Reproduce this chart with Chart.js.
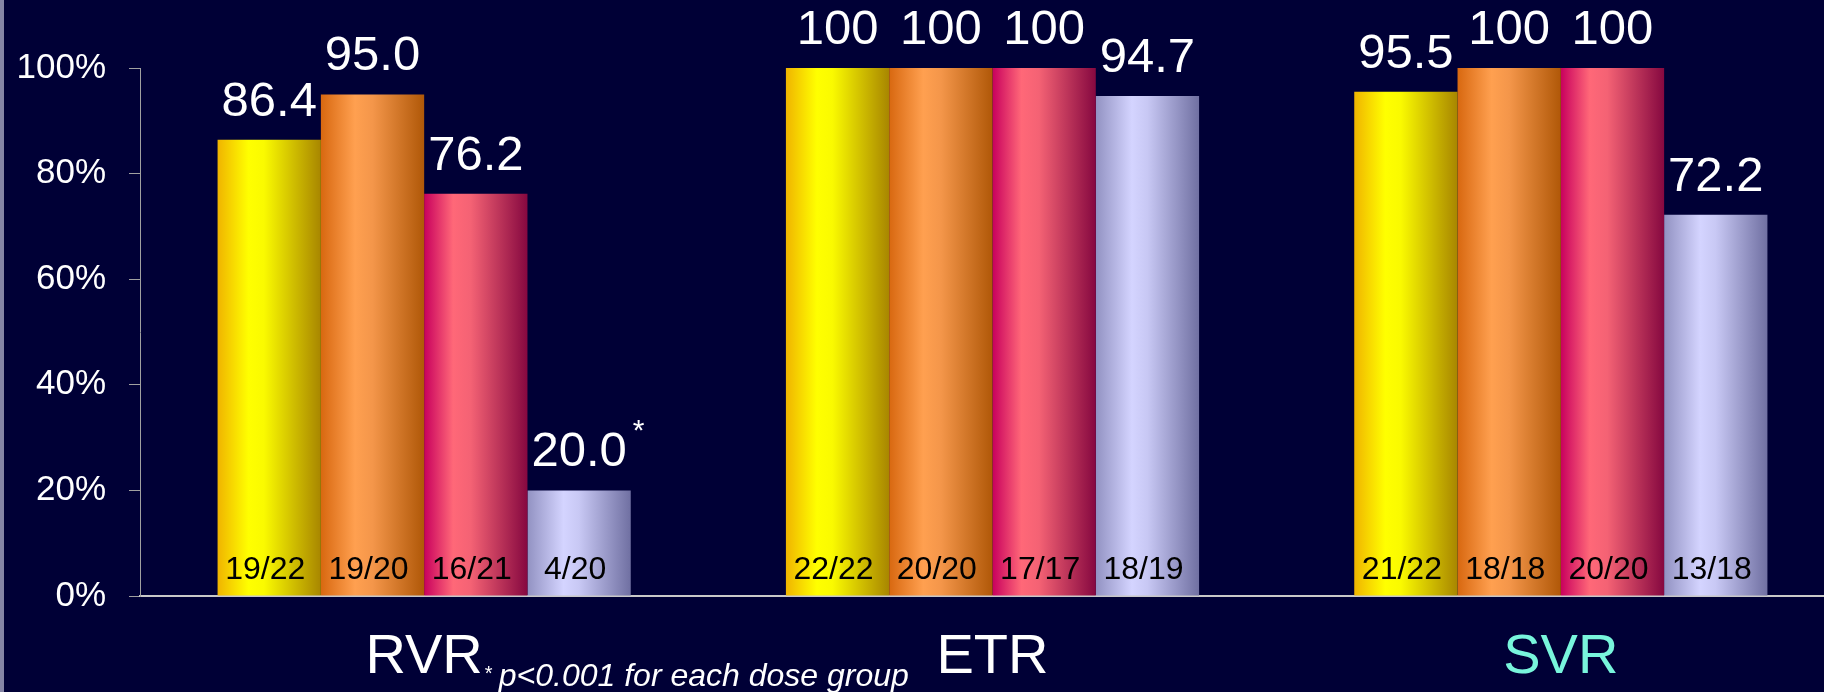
<!DOCTYPE html>
<html>
<head>
<meta charset="utf-8">
<script src="https://cdn.jsdelivr.net/npm/chart.js@4/dist/chart.umd.min.js"></script>
<style>
  html, body { margin: 0; padding: 0; background: #000036; overflow: hidden; }
  #wrap { position: relative; width: 1845px; height: 692px; }
  #edge { position: absolute; left: 0; top: 0; width: 4px; height: 692px; background: #8585a5; }
</style>
</head>
<body>
<div id="wrap">
  <canvas id="responseChart"></canvas>
  <div id="edge"></div>
</div>
<script>
// Response rates (%) per dose group
const categories = ['RVR', 'ETR', 'SVR'];
const group1 = [86.4, 100, 95.5];
const group2 = [95.0, 100, 100];
const group3 = [76.2, 100, 100];
const group4 = [20.0, 94.7, 72.2];

// Patients responding / patients in group
const group1Counts = ['19/22', '22/22', '21/22'];
const group2Counts = ['19/20', '20/20', '18/18'];
const group3Counts = ['16/21', '17/17', '20/20'];
const group4Counts = ['4/20', '18/19', '13/18'];

const yTicks = [0, 20, 40, 60, 80, 100];
const starredBars = [[3, 0]]; // [dataset, category] that carry the "*"
const footnote = 'p<0.001 for each dose group';

const FONT = "'Liberation Sans', Arial, sans-serif";

// horizontal "cylinder" shading for each group
const shades = [
    [[0, '#f0b400'], [0.3, '#ffff00'], [0.45, '#fafa00'], [1, '#a88600']],
    [[0, '#d86810'], [0.33, '#ffa050'], [0.5, '#f4964a'], [1, '#b05808']],
    [[0, '#c8005e'], [0.28, '#ff6878'], [0.45, '#f46274'], [1, '#860840']],
    [[0, '#9292c2'], [0.35, '#d4d4ff'], [0.5, '#c8c8f4'], [1, '#7070a2']]
];

function barFill(groupIndex) {
    return function(context) {
        const el = context.element;
        const stops = shades[groupIndex];
        if (!el || !el.width) return stops[1][1];
        const g = context.chart.ctx.createLinearGradient(el.x - el.width / 2, 0, el.x + el.width / 2, 0);
        stops.forEach(s => g.addColorStop(s[0], s[1]));
        return g;
    };
}

function formatValue(v) {
    return v === 100 ? '100' : v.toFixed(1);
}

// value above each bar, n/N inside at its foot, and the footnote
const barLabels = {
    id: 'barLabels',
    afterDatasetsDraw(chart) {
        const ctx = chart.ctx;
        const bottom = chart.scales.y.getPixelForValue(0);
        ctx.save();
        chart.data.datasets.forEach((ds, di) => {
            chart.getDatasetMeta(di).data.forEach((bar, i) => {
                const text = formatValue(ds.data[i]);
                ctx.font = '49px ' + FONT;
                ctx.fillStyle = '#ffffff';
                ctx.textAlign = 'center';
                ctx.textBaseline = 'alphabetic';
                ctx.fillText(text, bar.x, bar.y - 24);

                if (starredBars.some(s => s[0] === di && s[1] === i)) {
                    const w = ctx.measureText(text).width;
                    ctx.font = '30px ' + FONT;
                    ctx.textAlign = 'left';
                    ctx.fillText('*', bar.x + w / 2 + 6, bar.y - 50);
                }

                ctx.font = '32px ' + FONT;
                ctx.fillStyle = '#000000';
                ctx.textAlign = 'center';
                ctx.fillText(ds.counts[i], bar.x - 4, bottom - 17);
            });
        });

        // "* p<0.001 ..." next to the RVR label
        const xScale = chart.scales.x;
        ctx.font = '56px ' + FONT;
        const rvrRight = xScale.getPixelForValue(0) + ctx.measureText(categories[0]).width / 2;
        ctx.fillStyle = '#ffffff';
        ctx.textAlign = 'left';
        ctx.font = '20px ' + FONT;
        ctx.fillText('*', rvrRight + 2, 680);
        ctx.font = 'italic 32px ' + FONT;
        ctx.fillText(footnote, rvrRight + 16, 686);
        ctx.restore();
    }
};

const chart = new Chart(document.getElementById('responseChart'), {
    type: 'bar',
    data: {
        labels: categories,
        datasets: [
            { data: group1, counts: group1Counts, backgroundColor: barFill(0) },
            { data: group2, counts: group2Counts, backgroundColor: barFill(1) },
            { data: group3, counts: group3Counts, backgroundColor: barFill(2) },
            { data: group4, counts: group4Counts, backgroundColor: barFill(3) }
        ]
    },
    options: {
        responsive: true,
        maintainAspectRatio: false,
        animation: false,
        datasets: {
            bar: { categoryPercentage: 0.727, barPercentage: 1.0, borderWidth: 0 }
        },
        layout: { padding: { top: 68, left: 0, right: 0, bottom: 0 } },
        plugins: {
            legend: { display: false },
            tooltip: { enabled: false }
        },
        scales: {
            x: {
                afterFit: scale => { scale.height = 96; },
                grid: { display: false, drawTicks: false },
                border: { color: '#c8c8c8', width: 2 },
                ticks: {
                    padding: 28,
                    font: { family: FONT, size: 56 },
                    color: ctx => ctx.index === 2 ? '#78f5dc' : '#ffffff'
                }
            },
            y: {
                min: 0,
                max: 100,
                afterFit: scale => { scale.width = 140; },
                afterBuildTicks: scale => { scale.ticks = yTicks.map(v => ({ value: v })); },
                grid: { drawOnChartArea: false, drawTicks: true, tickLength: 11, color: '#a0a0a0' },
                border: { color: '#a0a0a0', width: 1 },
                ticks: {
                    padding: 23,
                    font: { family: FONT, size: 35 },
                    color: '#ffffff',
                    callback: v => v + '%'
                }
            }
        }
    },
    plugins: [barLabels]
});

// second pass so the gradients can use the laid-out bar positions
chart.update('none');
</script>
</body>
</html>
